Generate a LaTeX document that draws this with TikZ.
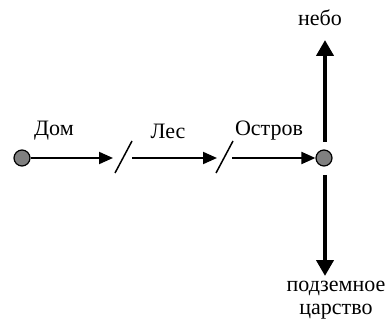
\documentclass[tikz,border=0pt]{standalone}
\usepackage{fontspec}
\setmainfont{Liberation Serif}
\usetikzlibrary{arrows.meta}
\begin{document}
\begin{tikzpicture}[x=1pt,y=-1pt,
  dot/.style={circle,draw=black,fill=black!50,line width=1.2pt,minimum size=16pt,inner sep=0pt},
  harrow/.style={line width=2pt,-{Triangle[length=14pt,width=12pt]}},
  varrow/.style={line width=4pt,-{Triangle[length=16pt,width=17pt]}},
  slash/.style={line width=1.5pt},
  lbl/.style={font=\fontsize{22}{25}\selectfont,inner sep=0pt}]
\useasboundingbox (0,0) rectangle (391,326);
\node[dot] (a) at (22,158) {};
\node[dot] (b) at (324,158) {};
\coordinate (t1) at (113,158);
\coordinate (s1a) at (115,173);
\coordinate (s1b) at (132,141);
\coordinate (l2) at (132,158);
\coordinate (t2) at (217,158);
\coordinate (s2a) at (216,173);
\coordinate (s2b) at (233,141);
\coordinate (l3) at (232,158);
\coordinate (u0) at (325,142);
\coordinate (u1) at (325,40);
\coordinate (d0) at (325,175);
\coordinate (d1) at (325,276);
\draw[harrow] (a) -- (t1);
\draw[slash] (s1a) -- (s1b);
\draw[harrow] (l2) -- (t2);
\draw[slash] (s2a) -- (s2b);
\draw[harrow] (l3) -- (b);
\draw[varrow] (u0) -- (u1);
\draw[varrow] (d0) -- (d1);
\node[lbl] (dom) at (54,131) {Дом};
\node[lbl] (les) at (168,131) {Лес};
\node[lbl] (ostrov) at (269,131) {Остров};
\node[lbl] (nebo) at (320,18) {небо};
\node[lbl,align=center] (podz) at (336,300) {подземное\\[-2pt]царство};
\end{tikzpicture}
\end{document}
